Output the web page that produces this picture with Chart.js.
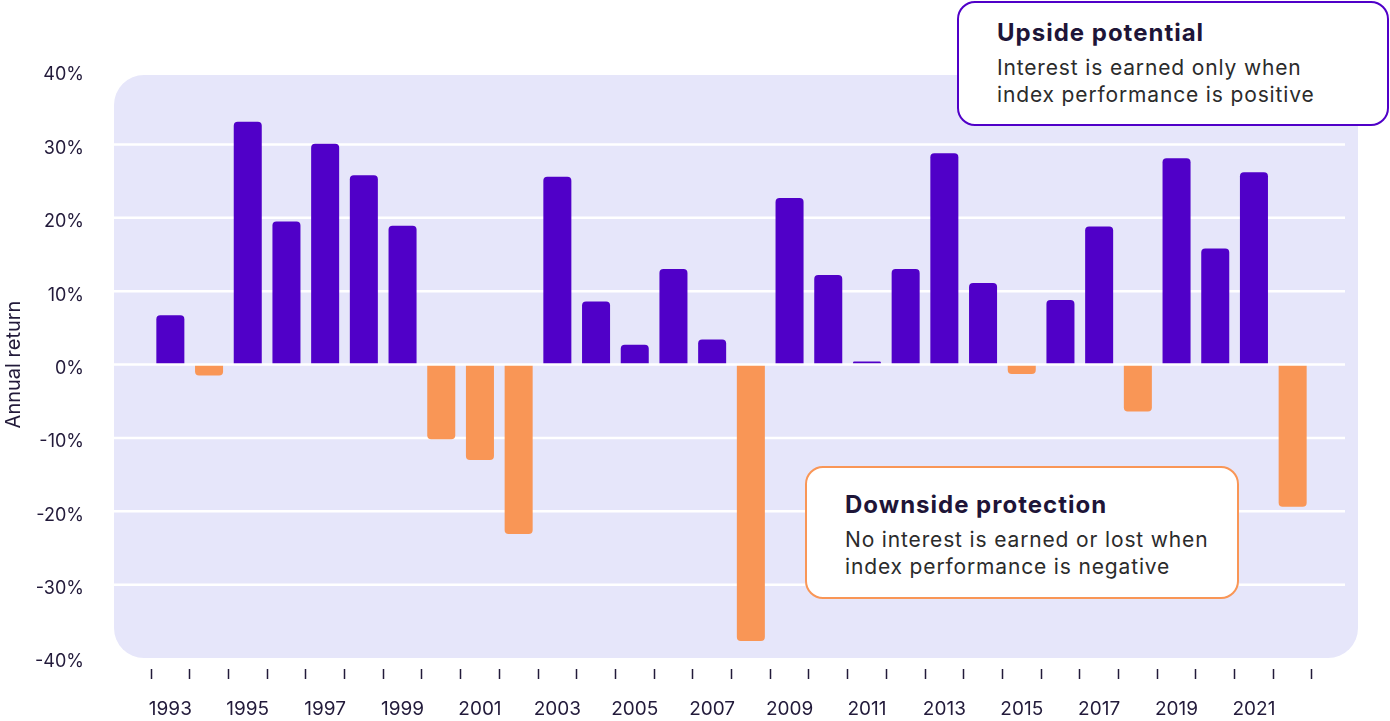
<!DOCTYPE html>
<html lang="en">
<head>
  <meta charset="UTF-8">
  <title>Annual return</title>
  <script src="https://cdn.jsdelivr.net/npm/chart.js"></script>
  <style>
    /* Estilos generales */
    body {
      margin: 0;
      background: #ffffff;
      font-family: 'Inter', sans-serif;
      color: #221a3a;
    }
    .wrap {
      position: relative;
      width: 1390px;
      height: 721px;
    }
    #returnsChart {
      display: block;
    }
    /* Cajas de texto sobre el gráfico */
    .callout {
      position: absolute;
      box-sizing: border-box;
      background: #ffffff;
      border: 2.5px solid;
      border-radius: 18px;
      padding-left: 38px;
    }
    .callout h3 {
      margin: 0;
      font-size: 24px;
      line-height: 30px;
      font-weight: 700;
      letter-spacing: 1px;
      color: #1e1538;
    }
    .callout p {
      margin: 6px 0 0;
      font-size: 21px;
      line-height: 27px;
      letter-spacing: 0.85px;
      color: #2b2b2b;
    }
    .upside {
      left: 957px;
      top: 1px;
      width: 432px;
      height: 125px;
      border-color: #5000c8;
      padding-top: 15px;
    }
    .downside {
      left: 805px;
      top: 466px;
      width: 434px;
      height: 133px;
      border-color: #f99656;
      padding-top: 22px;
    }
  </style>
</head>
<body>
  <div class="wrap">
    <canvas id="returnsChart" width="1390" height="721"></canvas>
    <div class="callout upside">
      <h3>Upside potential</h3>
      <p>Interest is earned only when<br>index performance is positive</p>
    </div>
    <div class="callout downside">
      <h3>Downside protection</h3>
      <p>No interest is earned or lost when<br>index performance is negative</p>
    </div>
  </div>

  <script>
    // Datos del gráfico
    const years = ['1993', '1994', '1995', '1996', '1997', '1998', '1999', '2000', '2001', '2002',
      '2003', '2004', '2005', '2006', '2007', '2008', '2009', '2010', '2011', '2012',
      '2013', '2014', '2015', '2016', '2017', '2018', '2019', '2020', '2021', '2022'];
    const returns = [6.7, -1.5, 33.1, 19.5, 30.1, 25.8, 18.9, -10.2, -13.0, -23.1,
      25.6, 8.6, 2.7, 13.0, 3.4, -37.7, 22.7, 12.2, 0.4, 13.0,
      28.8, 11.1, -1.3, 8.8, 18.8, -6.4, 28.1, 15.8, 26.2, -19.4];
    const yTicks = [-40, -30, -20, -10, 0, 10, 20, 30, 40];
    const yGrid = [-30, -20, -10, 10, 20, 30];

    // Colores
    const purple = '#5000c8';
    const orange = '#f99656';
    const panelColor = '#e6e6fa';
    const ink = '#221a3a';

    // Fondo redondeado y líneas de la cuadrícula (más anchas que el área del gráfico)
    const panelPlugin = {
      id: 'panel',
      beforeDraw(chart) {
        const { ctx, chartArea: a, scales: { y } } = chart;
        ctx.save();
        ctx.fillStyle = panelColor;
        ctx.beginPath();
        ctx.roundRect(a.left - 37, a.top + 4, a.right - a.left + 83, a.bottom - a.top - 4, 30);
        ctx.fill();
        ctx.strokeStyle = '#ffffff';
        ctx.lineWidth = 2.5;
        yGrid.forEach(v => {
          const py = y.getPixelForValue(v);
          ctx.beginPath();
          ctx.moveTo(a.left - 37, py);
          ctx.lineTo(a.right + 33, py);
          ctx.stroke();
        });
        ctx.restore();
      },
      // La línea del cero va encima de las barras
      afterDatasetsDraw(chart) {
        const { ctx, chartArea: a, scales: { y } } = chart;
        const py = y.getPixelForValue(0);
        ctx.save();
        ctx.strokeStyle = '#ffffff';
        ctx.lineWidth = 2.5;
        ctx.beginPath();
        ctx.moveTo(a.left - 37, py);
        ctx.lineTo(a.right + 33, py);
        ctx.stroke();
        ctx.restore();
      }
    };

    const ctx = document.getElementById('returnsChart').getContext('2d');
    new Chart(ctx, {
      type: 'bar',
      data: {
        labels: years,
        datasets: [{
          data: returns,
          backgroundColor: returns.map(v => v < 0 ? orange : purple),
          borderRadius: 4,
          borderSkipped: 'start',
          barPercentage: 0.724,
          categoryPercentage: 1
        }]
      },
      options: {
        responsive: false,
        devicePixelRatio: 1,
        animation: false,
        layout: { padding: { top: 71, right: 78, bottom: 0, left: 0 } },
        plugins: {
          legend: { display: false },
          tooltip: { enabled: false }
        },
        scales: {
          x: {
            offset: true,
            grid: {
              display: true,
              drawOnChartArea: false,
              drawTicks: true,
              tickLength: 21,
              tickColor: ink,
              tickWidth: 1.5,
              tickBorderDash: [0, 11, 10]
            },
            border: { display: false },
            ticks: {
              autoSkip: false,
              maxRotation: 0,
              padding: 19,
              color: ink,
              font: { family: 'Inter', size: 19 },
              callback: (v, i) => i % 2 === 0 ? years[i] : ''
            },
            afterFit(s) { s.height = 63; }
          },
          y: {
            min: -40,
            max: 40,
            afterBuildTicks(s) { s.ticks = yTicks.map(v => ({ value: v })); },
            // las marcas no se dibujan, solo dejan el hueco entre etiquetas y panel
            grid: { display: false, drawTicks: true, tickLength: 67 },
            border: { display: false },
            ticks: {
              padding: 0,
              labelOffset: 4,
              color: ink,
              font: { family: 'Inter', size: 18 },
              callback: v => v + '%'
            },
            title: {
              display: true,
              text: 'Annual return',
              color: ink,
              font: { family: 'Inter', size: 20 },
              padding: { top: 2, bottom: 0 }
            },
            afterFit(s) { s.width = 151; }
          }
        }
      },
      plugins: [panelPlugin]
    });
  </script>
</body>
</html>
